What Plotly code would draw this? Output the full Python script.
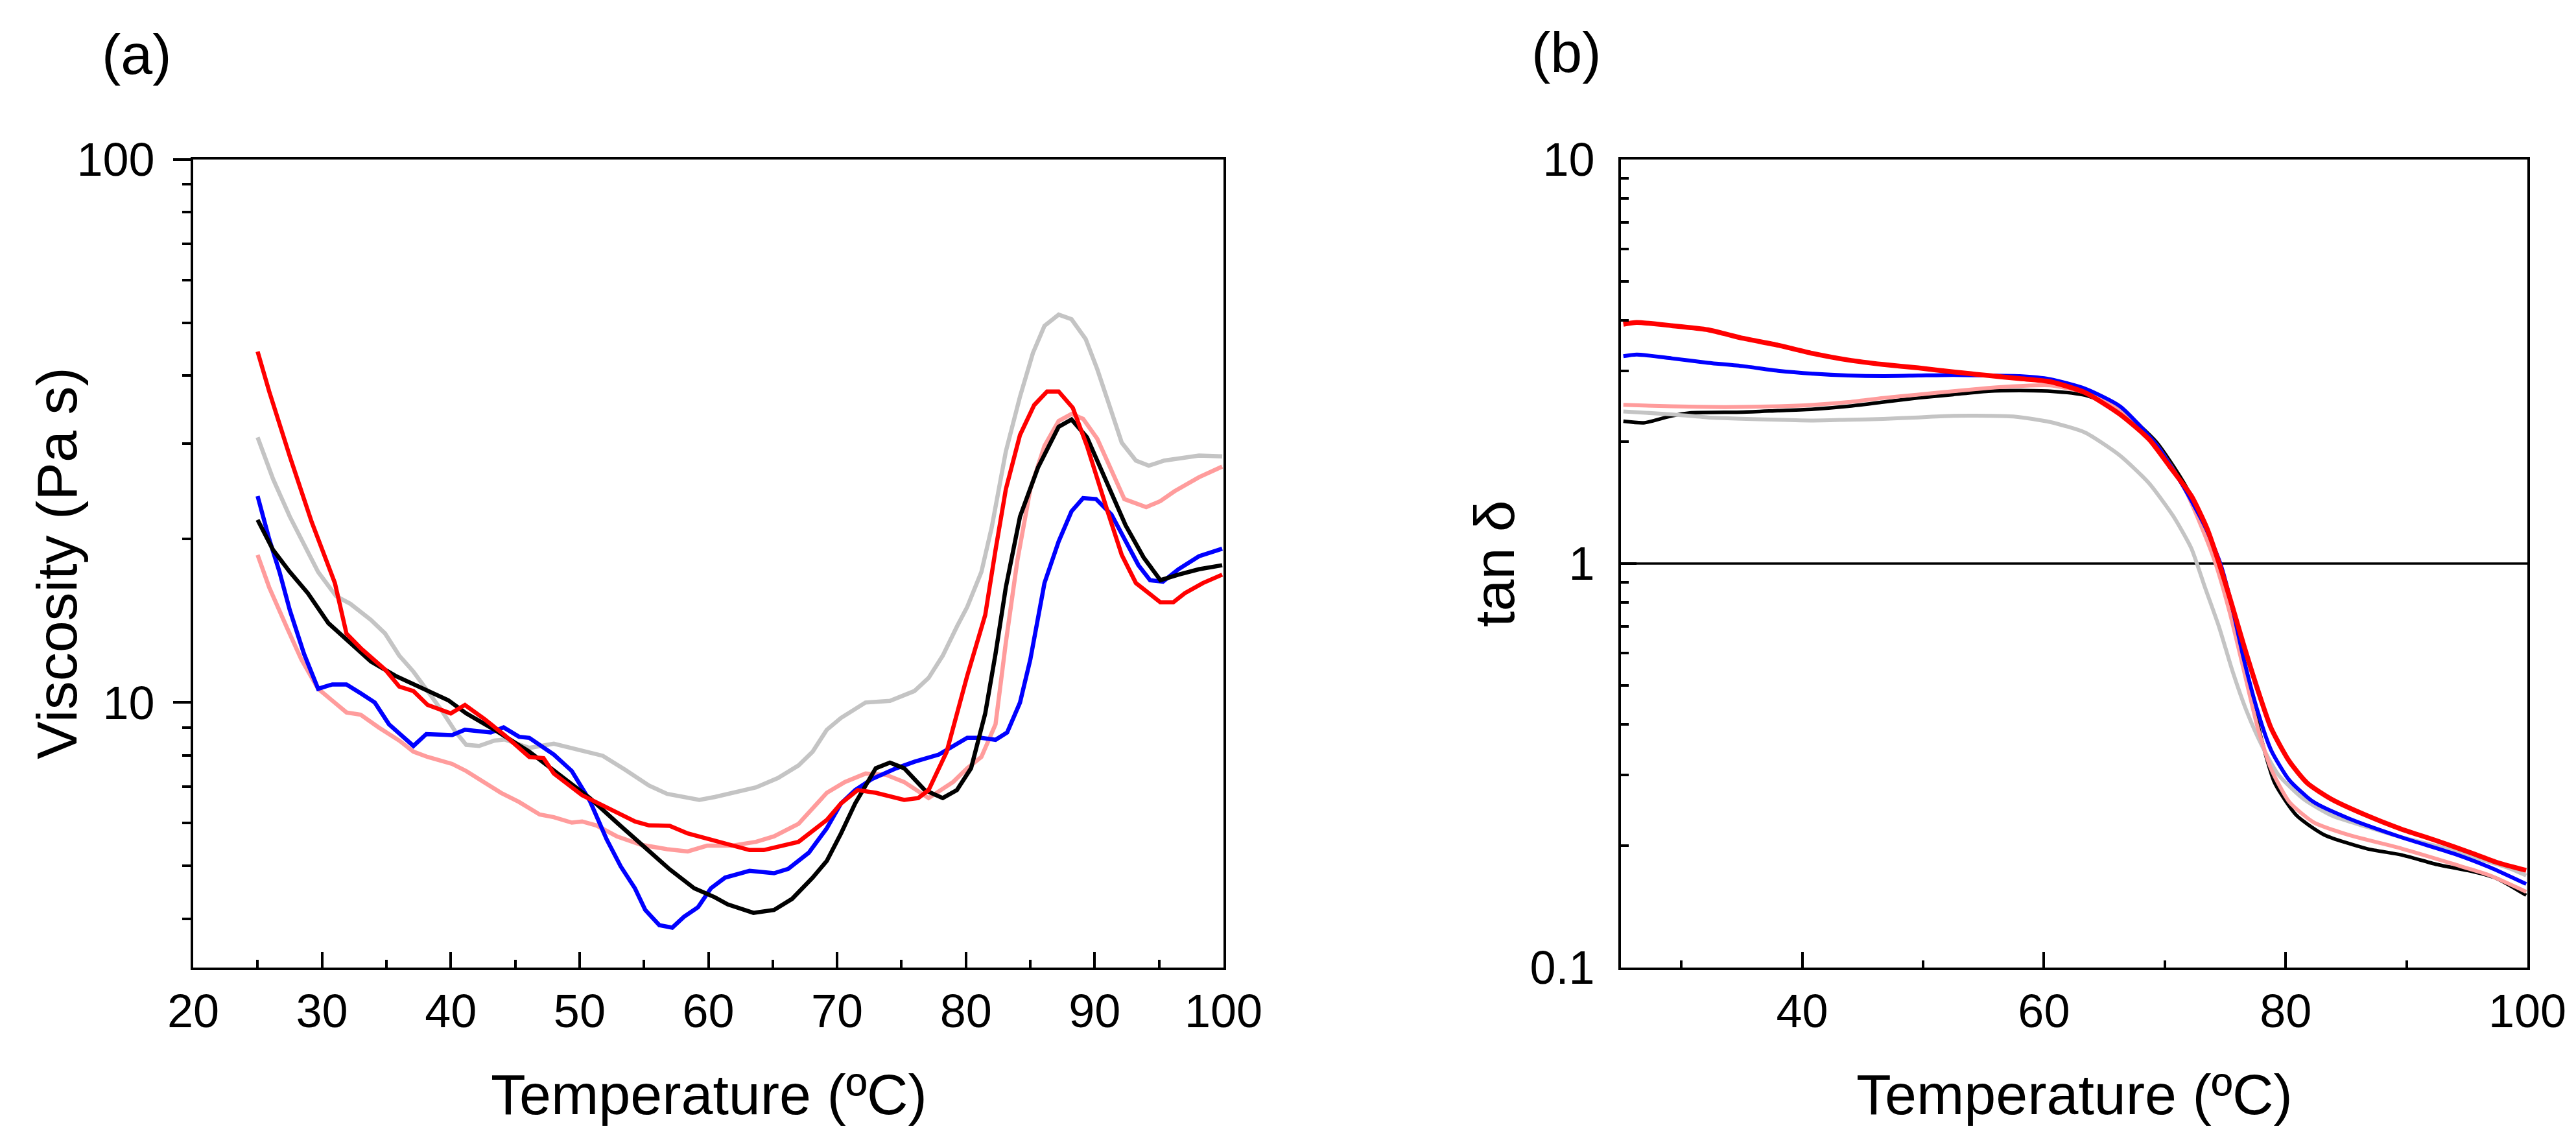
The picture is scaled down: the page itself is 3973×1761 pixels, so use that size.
import plotly.graph_objects as go

# ---------------- Panel (a): viscosity vs temperature ----------------
red_T = [25.0, 25.9, 27.5, 29.2, 31.0, 31.9, 33.0, 34.9, 36.0, 37.1, 38.2, 40.0, 41.1, 42.6, 44.2, 46.1, 47.2, 48.0, 50.2, 52.4,
         54.3, 55.4, 57.0, 58.4, 60.0, 61.5, 63.2, 64.3, 67.0, 69.2, 70.3, 71.6, 73.0, 75.2, 76.3, 77.1, 78.5, 80.1, 81.5, 82.3,
         83.1, 84.2, 85.3, 86.3, 87.2, 88.3, 89.4, 91.0, 92.1, 93.2, 95.1, 96.1, 97.0, 98.4, 99.9]
red_V = [44.3, 37.4, 28.4, 21.5, 16.6, 13.4, 12.6, 11.5, 10.7, 10.5, 9.9, 9.55, 9.9, 9.33, 8.7, 7.94, 7.9, 7.4, 6.75, 6.37,
         6.04, 5.94, 5.93, 5.74, 5.6, 5.47, 5.35, 5.35, 5.54, 6.08, 6.52, 6.90, 6.82, 6.62, 6.67, 6.90, 8.11, 11.2, 14.5, 19.1,
         24.7, 31.1, 35.3, 37.4, 37.4, 34.9, 29.7, 22.5, 18.7, 16.6, 15.3, 15.3, 15.9, 16.6, 17.2]

black_T = [25.0, 26.2, 27.5, 28.9, 30.5, 32.2, 33.8, 35.7, 37.9, 39.8, 41.2, 43.4, 46.1, 48.3, 50.8, 52.9, 54.8, 57.0, 58.9, 60.5,
           61.5, 63.5, 65.1, 66.5, 68.1, 69.2, 70.3, 71.4, 73.0, 74.1, 75.2, 76.8, 78.2, 79.3, 80.4, 81.5, 82.3, 83.1, 84.2, 85.6,
           87.2, 88.2, 89.4, 91.0, 92.4, 93.8, 95.1, 96.5, 98.1, 99.9]
black_V = [21.7, 19.1, 17.4, 15.9, 14.0, 12.9, 11.9, 11.2, 10.6, 10.1, 9.55, 8.91, 8.12, 7.4, 6.67, 6.01, 5.47, 4.93, 4.55, 4.38,
           4.25, 4.10, 4.15, 4.35, 4.76, 5.11, 5.74, 6.52, 7.57, 7.75, 7.57, 6.90, 6.67, 6.90, 7.57, 9.55, 12.3, 16.3, 22.0, 27.1,
           32.2, 33.2, 30.8, 25.2, 21.2, 18.5, 16.8, 17.2, 17.6, 17.9]

blue_T = [25.0, 25.9, 26.7, 27.5, 28.6, 29.7, 30.8, 31.9, 33.0, 34.1, 35.2, 37.1, 38.1, 40.1, 41.1, 43.1, 44.1, 45.3, 46.1, 48.0,
          49.4, 50.8, 52.1, 53.2, 54.3, 55.1, 56.2, 57.2, 58.1, 59.2, 60.2, 61.3, 63.2, 65.1, 66.2, 67.8, 69.2, 70.3, 71.4, 72.7,
          74.6, 76.0, 77.9, 79.3, 80.1, 81.2, 82.3, 83.2, 84.2, 85.0, 86.1, 87.2, 88.2, 89.1, 90.1, 91.3, 92.4, 93.4, 94.3, 95.3,
          96.5, 98.1, 99.9]
blue_V = [24.0, 20.0, 17.4, 14.8, 12.3, 10.6, 10.8, 10.8, 10.4, 10.0, 9.12, 8.32, 8.75, 8.71, 8.91, 8.81, 9.0, 8.65, 8.61, 8.02,
          7.48, 6.59, 5.60, 4.99, 4.55, 4.15, 3.89, 3.85, 4.03, 4.20, 4.55, 4.76, 4.90, 4.85, 4.94, 5.29, 5.87, 6.52, 6.90, 7.23,
          7.57, 7.78, 8.02, 8.41, 8.61, 8.61, 8.54, 8.81, 10.0, 12.0, 16.6, 19.8, 22.5, 23.8, 23.7, 22.2, 19.8, 17.9, 16.8, 16.7,
          17.6, 18.6, 19.2]

gray_T = [25.0, 26.2, 27.5, 29.7, 31.1, 32.2, 33.8, 34.9, 36.0, 37.1, 38.2, 39.3, 40.4, 41.2, 42.2, 43.4, 44.2, 46.1, 48.0, 49.9,
          51.8, 53.5, 55.4, 56.8, 58.1, 59.3, 60.5, 62.4, 63.7, 65.4, 67.0, 68.1, 69.2, 70.3, 72.2, 74.1, 76.0, 77.1, 78.2, 79.3,
          80.1, 81.2, 82.0, 83.1, 84.2, 85.2, 86.1, 87.2, 88.2, 89.3, 90.2, 91.2, 92.1, 93.2, 94.2, 95.4, 97.0, 98.1, 99.9]
gray_V = [30.8, 25.8, 22.0, 17.4, 15.7, 15.2, 14.2, 13.4, 12.2, 11.4, 10.5, 9.66, 8.81, 8.36, 8.32, 8.51, 8.55, 8.25, 8.40, 8.18,
          7.98, 7.53, 7.03, 6.79, 6.70, 6.62, 6.70, 6.85, 6.98, 7.26, 7.66, 8.12, 8.91, 9.37, 10.0, 10.07, 10.5, 11.1, 12.2, 13.8,
          15.0, 17.4, 21.0, 29.0, 36.6, 44.0, 49.4, 51.8, 50.8, 46.7, 41.1, 34.9, 30.1, 27.9, 27.3, 27.9, 28.2, 28.5, 28.4]

pink_T = [25.0, 25.9, 27.3, 28.4, 29.7, 30.8, 31.9, 33.0, 34.4, 36.0, 37.1, 38.2, 40.1, 41.2, 42.6, 43.9, 45.3, 46.9, 48.0, 49.4,
          50.2, 51.3, 52.9, 54.8, 56.8, 58.4, 59.9, 61.8, 63.7, 65.1, 67.0, 68.1, 69.2, 70.6, 72.2, 73.8, 75.2, 77.1, 79.0, 80.1,
          81.2, 82.3, 83.1, 84.0, 85.0, 86.1, 87.2, 88.2, 89.1, 90.2, 91.3, 92.3, 94.0, 95.1, 96.2, 98.1, 99.9]
pink_V = [18.7, 16.3, 13.7, 12.0, 10.6, 10.1, 9.59, 9.50, 9.0, 8.51, 8.12, 7.94, 7.71, 7.48, 7.14, 6.82, 6.56, 6.22, 6.15, 6.01,
          6.04, 5.94, 5.67, 5.47, 5.37, 5.32, 5.45, 5.45, 5.54, 5.67, 5.98, 6.37, 6.82, 7.14, 7.40, 7.36, 7.14, 6.67, 7.14, 7.57,
          7.94, 9.12, 12.9, 18.3, 24.7, 29.7, 33.0, 34.0, 33.3, 30.6, 26.8, 23.7, 22.9, 23.5, 24.5, 26.0, 27.2]

# ---------------- Panel (b): tan delta vs temperature ----------------
b_red_T = [25.2, 26.3, 29.2, 32.2, 35.1, 38.0, 40.9, 43.8, 46.7, 49.6, 52.5, 55.4, 58.0, 60.5, 63.4, 66.3, 68.7, 70.4, 72.2, 73.5,
           74.5, 75.5, 76.5, 77.7, 78.8, 80.3, 81.8, 83.8, 86.7, 89.6, 92.5, 95.4, 97.5, 99.9]
b_red_V = [3.91, 3.95, 3.88, 3.79, 3.61, 3.47, 3.31, 3.19, 3.11, 3.05, 2.98, 2.92, 2.87, 2.82, 2.65, 2.34, 2.03, 1.74, 1.47, 1.22,
           1.0, 0.80, 0.633, 0.486, 0.391, 0.324, 0.286, 0.261, 0.238, 0.220, 0.206, 0.192, 0.182, 0.174]

b_blue_T = [25.2, 26.3, 29.2, 32.2, 35.1, 38.0, 40.9, 43.8, 46.7, 49.6, 52.5, 55.4, 58.0, 60.5, 63.4, 66.3, 69.3, 71.6, 73.3, 74.6,
            75.6, 76.5, 77.7, 78.8, 80.3, 82.3, 85.2, 89.6, 94.0, 96.9, 99.9]
b_blue_V = [3.26, 3.29, 3.22, 3.14, 3.08, 3.0, 2.95, 2.92, 2.91, 2.92, 2.93, 2.92, 2.91, 2.86, 2.71, 2.45, 1.97, 1.54, 1.24, 1.0,
            0.775, 0.586, 0.429, 0.345, 0.291, 0.257, 0.234, 0.210, 0.191, 0.177, 0.161]

b_pink_T = [25.2, 29.2, 33.6, 38.0, 40.9, 43.8, 46.7, 49.6, 52.5, 55.4, 58.0, 60.5, 63.4, 66.3, 69.3, 71.6, 73.0, 74.2, 75.4, 76.5,
            77.7, 78.8, 80.3, 82.3, 85.2, 89.6, 94.0, 96.9, 99.9]
b_pink_V = [2.47, 2.45, 2.44, 2.45, 2.47, 2.51, 2.57, 2.62, 2.67, 2.72, 2.75, 2.76, 2.65, 2.41, 1.97, 1.54, 1.24, 1.0, 0.751, 0.55,
            0.391, 0.31, 0.257, 0.229, 0.213, 0.197, 0.180, 0.169, 0.154]

b_black_T = [25.2, 26.9, 29.2, 30.7, 35.1, 38.0, 40.9, 43.8, 46.7, 49.6, 52.5, 55.4, 58.0, 60.5, 63.4, 66.3, 69.3, 71.6, 73.3, 74.5,
             75.6, 76.8, 78.0, 79.1, 80.9, 83.2, 86.7, 89.6, 92.5, 95.4, 97.5, 99.9]
b_black_V = [2.25, 2.23, 2.32, 2.36, 2.37, 2.39, 2.41, 2.45, 2.51, 2.57, 2.62, 2.67, 2.68, 2.67, 2.61, 2.41, 2.0, 1.58, 1.25, 1.0,
             0.751, 0.533, 0.367, 0.286, 0.238, 0.213, 0.197, 0.190, 0.180, 0.173, 0.166, 0.151]

b_gray_T = [25.2, 29.2, 32.2, 38.0, 40.9, 43.8, 46.7, 49.6, 52.5, 55.4, 57.6, 60.5, 63.4, 66.3, 68.7, 70.7, 72.2, 73.3, 74.5, 75.6,
            76.8, 78.0, 79.4, 81.5, 83.8, 86.7, 89.6, 92.5, 95.4, 98.3, 99.9]
b_gray_V = [2.38, 2.34, 2.30, 2.27, 2.26, 2.27, 2.28, 2.30, 2.32, 2.32, 2.31, 2.24, 2.11, 1.85, 1.58, 1.31, 1.09, 0.877, 0.695, 0.542,
            0.429, 0.356, 0.30, 0.261, 0.238, 0.223, 0.210, 0.200, 0.188, 0.177, 0.169]

ref_T = [25, 100]
ref_V = [1, 1]

a_xticks = [20, 30, 40, 50, 60, 70, 80, 90, 100]
a_xminor = [25, 35, 45, 55, 65, 75, 85, 95]
a_yticks = [10, 100]
a_yminor = [4, 5, 6, 7, 8, 9, 20, 30, 40, 50, 60, 70, 80, 90]
b_xticks = [40, 60, 80, 100]
b_xminor = [30, 50, 70, 90]
b_yticks = [0.1, 1, 10]
b_ytext = ["0.1", "1", "10"]
b_yminor = [0.2, 0.3, 0.4, 0.5, 0.6, 0.7, 0.8, 0.9, 2, 3, 4, 5, 6, 7, 8, 9]

RED = "#FF0000"
BLUE = "#0000FF"
BLACK = "#000000"
GRAY = "#C4C4C4"
PINK = "#FF9C9C"

FONT = "Liberation Sans, Arial, sans-serif"
W, H = 3973, 1761

fig = go.Figure()

for T, V, c in [(gray_T, gray_V, GRAY), (pink_T, pink_V, PINK), (blue_T, blue_V, BLUE),
                (black_T, black_V, BLACK), (red_T, red_V, RED)]:
    fig.add_trace(go.Scatter(x=T, y=V, mode="lines", line=dict(color=c, width=6.5),
                             xaxis="x", yaxis="y", showlegend=False, hoverinfo="skip"))

fig.add_trace(go.Scatter(x=ref_T, y=ref_V, mode="lines", line=dict(color=BLACK, width=3.5),
                         xaxis="x2", yaxis="y2", showlegend=False, hoverinfo="skip"))
for T, V, c, w in [(b_black_T, b_black_V, BLACK, 5.5), (b_gray_T, b_gray_V, GRAY, 6), (b_pink_T, b_pink_V, PINK, 6),
                   (b_blue_T, b_blue_V, BLUE, 6), (b_red_T, b_red_V, RED, 7.5)]:
    fig.add_trace(go.Scatter(x=T, y=V, mode="lines", line=dict(color=c, width=w, shape="spline", smoothing=0.6),
                             xaxis="x2", yaxis="y2", showlegend=False, hoverinfo="skip"))

ax_common = dict(showline=True, linecolor=BLACK, linewidth=4, mirror=True, showgrid=False, zeroline=False,
                 automargin=False, tickcolor=BLACK, tickwidth=3.5,
                 tickfont=dict(family=FONT, size=72, color=BLACK))

ydom = [1 - 1484 / H, 1 - 238 / H]

fig.update_layout(
    template="none",
    width=W, height=H, autosize=False,
    margin=dict(l=0, r=0, t=0, b=0, pad=0, autoexpand=False),
    paper_bgcolor="white", plot_bgcolor="white",
    font=dict(family=FONT, color=BLACK),
    showlegend=False,
    xaxis=dict(**ax_common, domain=[290 / W, 1879 / W], range=[20, 100], tickmode="array", tickvals=a_xticks,
               ticks="inside", ticklen=24, ticklabelstandoff=2,
               minor=dict(tickmode="array", tickvals=a_xminor, ticks="inside", ticklen=12, tickwidth=3.5, tickcolor=BLACK),
               anchor="y"),
    yaxis=dict(**ax_common, domain=ydom, type="log", range=[0.512, 2], tickmode="array", tickvals=a_yticks,
               ticktext=["10", "100"], ticks="outside", ticklen=27, ticklabelstandoff=14,
               minor=dict(tickmode="array", tickvals=a_yminor, ticks="outside", ticklen=13, tickwidth=3.5, tickcolor=BLACK),
               anchor="x"),
    xaxis2=dict(**ax_common, domain=[2492 / W, 3890 / W], range=[25, 100], tickmode="array", tickvals=b_xticks,
                ticks="inside", ticklen=24, ticklabelstandoff=2,
                minor=dict(tickmode="array", tickvals=b_xminor, ticks="inside", ticklen=11, tickwidth=3.5, tickcolor=BLACK),
                anchor="y2"),
    yaxis2=dict(**ax_common, domain=ydom, type="log", range=[-1, 1], tickmode="array", tickvals=b_yticks,
                ticktext=b_ytext, ticks="inside", ticklen=24, ticklabelstandoff=22,
                minor=dict(tickmode="array", tickvals=b_yminor, ticks="inside", ticklen=12, tickwidth=3.5, tickcolor=BLACK),
                anchor="x2"),
)

ann_font = dict(family=FONT, size=88, color=BLACK)
annotations = [
    dict(text="(a)", x=203 / W, y=1 - 75 / H),
    dict(text="(b)", x=2408 / W, y=1 - 72 / H),
    dict(text="Temperature (ºC)", x=1085 / W, y=1 - 1679 / H),
    dict(text="Temperature (ºC)", x=3191 / W, y=1 - 1679 / H),
    dict(text="Viscosity (Pa s)", x=79 / W, y=1 - 861 / H, textangle=-90),
    dict(text="tan δ", x=2296 / W, y=1 - 861 / H, textangle=-90),
]
for a in annotations:
    fig.add_annotation(xref="paper", yref="paper", showarrow=False, xanchor="center", yanchor="middle",
                       font=ann_font, **a)

fig.write_html("out.html")
